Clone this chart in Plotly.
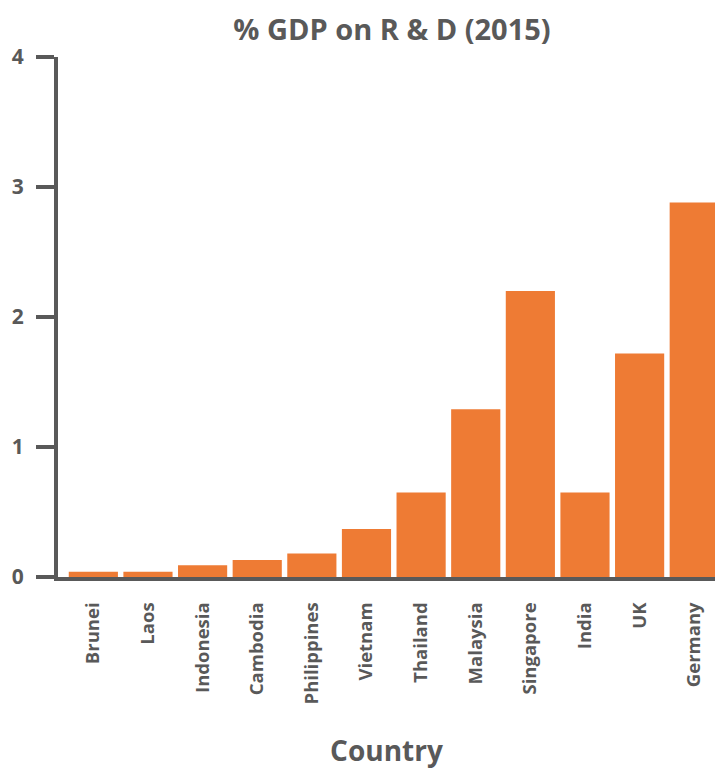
import plotly.graph_objects as go

countries = ["Brunei", "Laos", "Indonesia", "Cambodia", "Philippines", "Vietnam",
             "Thailand", "Malaysia", "Singapore", "India", "UK", "Germany"]
gdp_rd = [0.04, 0.04, 0.09, 0.13, 0.18, 0.37, 0.65, 1.29, 2.2, 0.65, 1.72, 2.88]
y_ticks = [0, 1, 2, 3, 4]

GREY = "#595959"
ORANGE = "#EE7B34"
FONT = "Open Sans"

fig = go.Figure(go.Bar(x=countries, y=gdp_rd, marker=dict(color=ORANGE, line=dict(width=0))))

fig.update_layout(
    width=715, height=769,
    margin=dict(l=58, r=0, t=57, b=192, autoexpand=False),
    paper_bgcolor="white", plot_bgcolor="white",
    bargap=0.1,
    showlegend=False,
    font=dict(family=FONT, color=GREY),
    title=dict(text="% GDP on R & D (2015)", x=392/715, xanchor="center",
               y=1 - 30/769, yanchor="middle",
               font=dict(family=FONT, size=29, color=GREY, weight="bold")),
    xaxis=dict(
        type="category", range=[-0.647, 11.38],
        showline=True, linecolor=GREY, linewidth=4,
        ticks="", tickangle=-90, ticklabelstandoff=14,
        tickfont=dict(family=FONT, size=18.5, color=GREY, weight="bold"),
        showgrid=False, zeroline=False,
        title=dict(text="Country", standoff=42,
                   font=dict(family=FONT, size=28, color=GREY, weight="bold")),
        automargin=False,
    ),
    yaxis=dict(
        range=[0, 4], tickvals=y_ticks, ticktext=[str(v) for v in y_ticks],
        showline=True, linecolor=GREY, linewidth=4,
        ticks="outside", ticklen=18, tickwidth=4, tickcolor=GREY,
        ticklabelstandoff=8,
        tickfont=dict(family=FONT, size=21, color=GREY, weight="bold"),
        showgrid=False, zeroline=False, automargin=False,
    ),
)

fig.write_html("out.html")
